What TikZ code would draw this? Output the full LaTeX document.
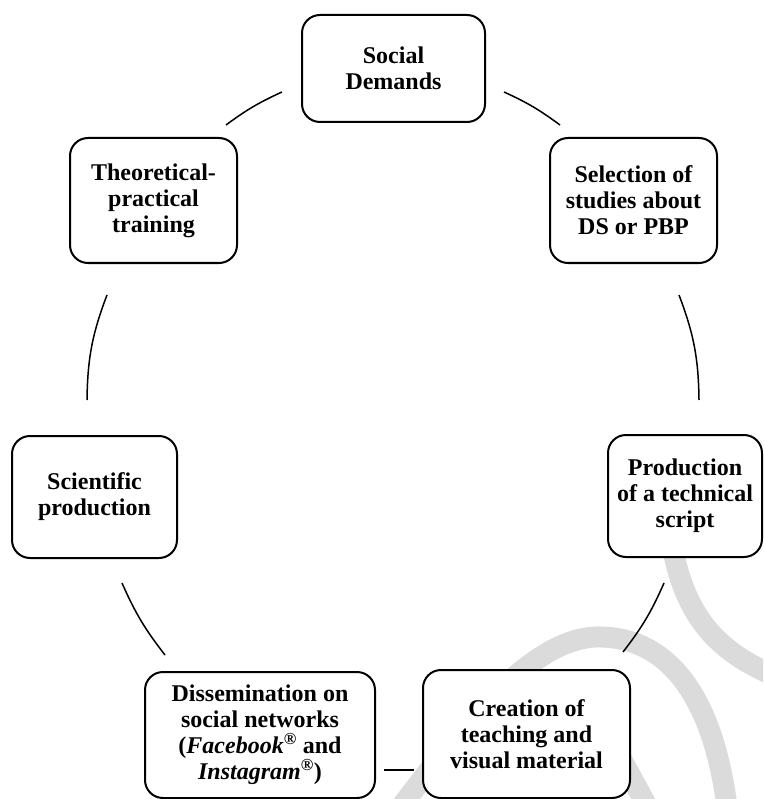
\documentclass[tikz,border=0pt]{standalone}
\usepackage{fontspec}
\setmainfont{Liberation Serif}
\begin{document}
\begin{tikzpicture}[x=1pt,y=-1pt,
  box/.style={draw, line width=2pt, rounded corners=18pt, fill=white, align=center, inner sep=0pt,
              font=\fontsize{24}{26}\selectfont\bfseries},
  link/.style={line width=1.5pt},
  wm/.style={line width=21pt, draw=black!14}]
\useasboundingbox (0,0) rectangle (763,799);
% watermark
\begin{scope}
\clip (0,0) rectangle (763,799);
\draw[wm] (671,540) .. controls (684,615) and (715,652) .. (780,678);
\draw[wm] (395,815) .. controls (480,700) and (540,640) .. (595,637)
               .. controls (670,635) and (715,700) .. (728,815);
\draw[wm] (622,760) -- (652,815);
\end{scope}
% boxes
\node[box, minimum width=183pt, minimum height=107pt] (sd)  at (393.5,68.5) {Social\\Demands};
\node[box, minimum width=167pt, minimum height=125pt] (sel) at (633.5,200.5) {Selection of\\studies about\\DS or PBP};
\node[box, minimum width=154pt, minimum height=122pt] (pro) at (685,496) {Production\\of a technical\\script};
\node[box, minimum width=207pt, minimum height=128pt] (cre) at (526.5,734) {Creation of\\teaching and\\visual material};
\node[box, minimum width=230pt, minimum height=126pt] (dis) at (260,735) {Dissemination on\\social networks\\(\textit{Facebook}\textsuperscript{®} and\\\textit{Instagram}\textsuperscript{®})};
\node[box, minimum width=165pt, minimum height=122pt] (sci) at (94.5,497) {Scientific\\production};
\node[box, minimum width=167pt, minimum height=125pt] (the) at (153.5,200.5) {Theoretical-\\practical\\training};
% connector end points
\coordinate (a1) at (504,92);  \coordinate (b1) at (560,125);
\coordinate (a2) at (679,295); \coordinate (b2) at (699,400);
\coordinate (a3) at (664,583); \coordinate (b3) at (623,652);
\coordinate (a4) at (414,770); \coordinate (b4) at (384,770);
\coordinate (a5) at (165,655); \coordinate (b5) at (122,583);
\coordinate (a6) at (87,400);  \coordinate (b6) at (107,295);
\coordinate (a7) at (226,125); \coordinate (b7) at (282,92);
\draw[link] (a1) to[bend left=6] (b1);
\draw[link] (a2) to[bend left=10] (b2);
\draw[link] (a3) to[bend left=7] (b3);
\draw[link] (a4) -- (b4);
\draw[link] (a5) to[bend left=7] (b5);
\draw[link] (a6) to[bend left=10] (b6);
\draw[link] (a7) to[bend left=6] (b7);
\end{tikzpicture}
\end{document}
